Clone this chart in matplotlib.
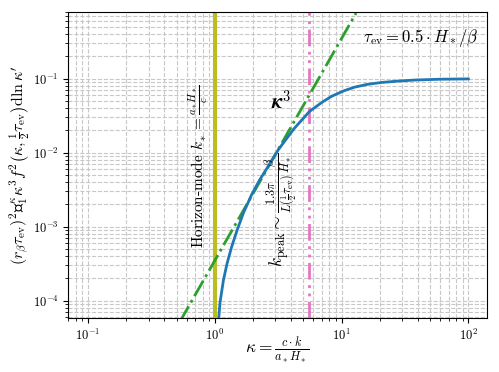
import numpy as np
import matplotlib.pyplot as plt

plt.rcParams['font.family'] = 'serif'
plt.rcParams['font.serif'] = ['cmr10', 'DejaVu Serif']
plt.rcParams['mathtext.fontset'] = 'cm'
plt.rcParams['axes.formatter.use_mathtext'] = True

# integrated spectrum
kappa = [1.065, 1.08, 1.1, 1.17, 1.25, 1.36, 1.5, 1.68, 1.95, 2.26, 2.7, 3.17,
         4.2, 5.57, 7.0, 8.35, 10.5, 12.7, 16.0, 20.6, 28.0, 37.8, 60.0, 100.0]
spec = [4.5e-5, 6.5e-5, 9.5e-5, 1.9e-4, 3.2e-4, 5.4e-4, 9.0e-4, 1.53e-3, 2.7e-3,
        4.3e-3, 7.0e-3, 0.011, 0.021, 0.036, 0.048, 0.058, 0.069, 0.077, 0.084,
        0.089, 0.093, 0.096, 0.0985, 0.0995]

# kappa^3 reference line (end points)
kappa_ref = [0.53, 13.0]
ref = [5.2e-5, 0.77]

kappa_hor = 1.0
kappa_peak = 5.55

fig, ax = plt.subplots(figsize=(4.99, 3.72), dpi=100)
fig.subplots_adjust(left=0.137, right=0.975, top=0.968, bottom=0.146)

ax.axvline(kappa_hor, color='#bcbd22', lw=3)
ax.axvline(kappa_peak, color='#e377c2', lw=2, ls=(0, (6, 2, 1, 2, 1, 2)))
ax.plot(kappa_ref, ref, color='#2ca02c', lw=2, ls='-.')
ax.plot(kappa, spec, color='#1f77b4', lw=2)

ax.set_xscale('log')
ax.set_yscale('log')
ax.set_xlim(0.07, 139)
ax.set_ylim(5.9e-5, 0.8)
ax.grid(True, which='both', ls='--', color='#c8c8c8', lw=0.8)
ax.tick_params(which='both', labelsize=9)

ax.text(0.91, 5.2e-4, r'Horizon-mode $k_* = \frac{a_* H_*}{c}$', rotation=90,
        ha='right', va='bottom', fontsize=11)
ax.text(4.6, 2.9e-4,
        r'$k_{\rm peak} \sim \frac{1.3\pi}{L(\frac{1}{2}\tau_{\rm ev})}\frac{\beta}{H_*}$',
        rotation=90, ha='right', va='bottom', fontsize=12.5)
ax.text(3.37, 0.049, r'$\boldsymbol{\kappa}^{\mathbf{3}}$', ha='center', va='center', fontsize=15)
ax.text(42, 0.36, r'$\tau_{\rm ev} = \mathbf{0.5}\cdot H_*/\beta$',
        ha='center', va='center', fontsize=12)

ax.set_xlabel(r'$\kappa = \frac{c\cdot k}{a_* H_*}$', fontsize=12.5, va='center')
ax.xaxis.set_label_coords(0.5, -0.11)
ax.set_ylabel(r'$(r_\beta \tau_{\rm ev})^2$∫$_1^\kappa \kappa^3 f^2\left(\kappa, \frac{1}{2}\tau_{\rm ev}\right) {\rm d}\ln\kappa^\prime$',
              fontsize=11.5, va='center', family=['cmr10', 'DejaVu Serif'])
ax.yaxis.set_label_coords(-0.115, 0.5)

fig.savefig('out.png', dpi=100)
